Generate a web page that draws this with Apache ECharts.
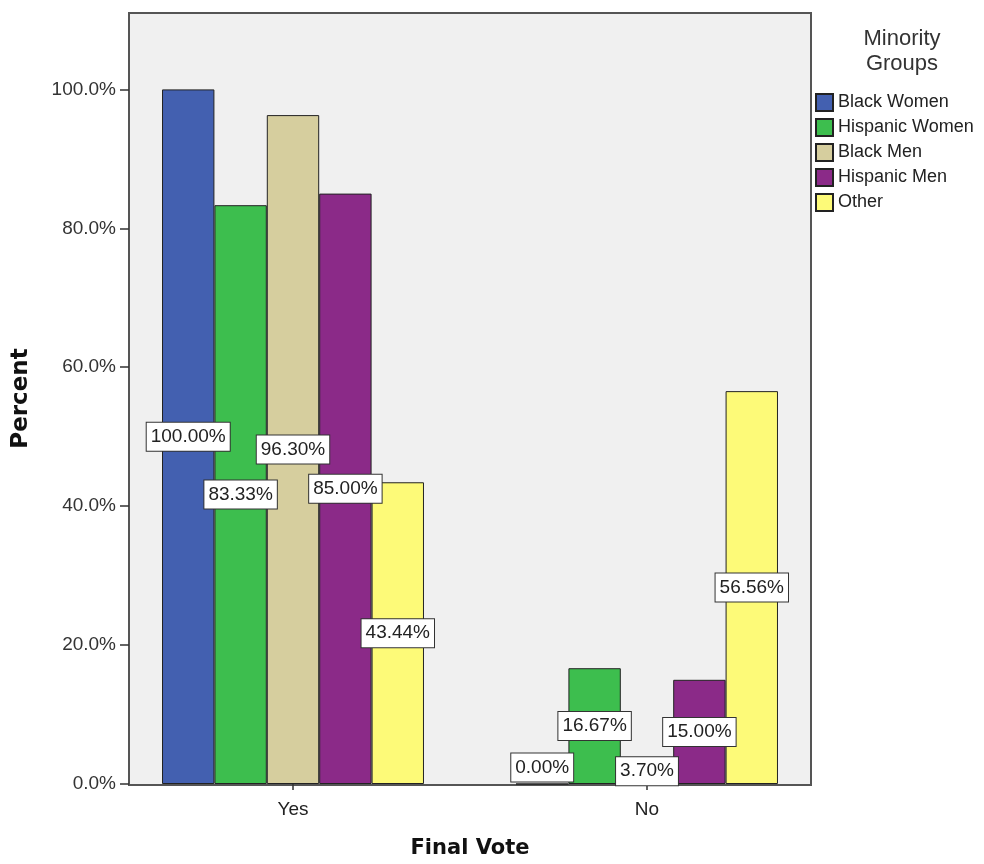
<!DOCTYPE html>
<html>
<head>
<meta charset="utf-8">
<script src="https://cdn.jsdelivr.net/npm/echarts@6/dist/echarts.min.js"></script>
<style>
html,body{margin:0;padding:0;background:#fff;}
#chart{width:984px;height:864px;}
</style>
</head>
<body>
<div id="chart"></div>
<script>
// ---- data ----
const categories = ['Yes', 'No'];
const groupNames = ['Black Women', 'Hispanic Women', 'Black Men', 'Hispanic Men', 'Other'];
const blackWomen    = [100.00, 0.00];
const hispanicWomen = [83.33, 16.67];
const blackMen      = [96.30, 3.70];
const hispanicMen   = [85.00, 15.00];
const other         = [43.44, 56.56];
const yTicks = [0, 20, 40, 60, 80, 100];

// ---- styles ----
const colors = ['#4360B0', '#3DBE4E', '#D6CE9E', '#8B2A88', '#FDFA78'];
const seriesValues = [blackWomen, hispanicWomen, blackMen, hispanicMen, other];

// layout: category band grid and the visible plot frame
const GRID = {left: 116, right: 160, top: 13, bottom: 79};
const INSET = 13;
const W = 984, H = 864;
const frame = {
  x: GRID.left + INSET,
  y: GRID.top,
  width: W - GRID.left - GRID.right - 2 * INSET,
  height: H - GRID.top - GRID.bottom
};

const labelFont = 'Liberation Sans, Arial, sans-serif';

const series = seriesValues.map((vals, i) => ({
  name: groupNames[i],
  type: 'bar',
  barGap: 0,
  barCategoryGap: '26%',
  itemStyle: {color: colors[i], borderColor: '#222', borderWidth: 1},
  label: {
    show: true,
    position: 'inside',
    formatter: p => p.value.toFixed(2) + '%',
    fontFamily: labelFont,
    fontSize: 19,
    color: '#222',
    backgroundColor: '#fff',
    borderColor: '#333',
    borderWidth: 1,
    padding: [5, 4, 4, 4]
  },
  data: vals.map(v => v === 0 ? {value: v, label: {position: 'top', distance: 2}} : v)
}));

const chart = echarts.init(document.getElementById('chart'));
chart.setOption({
  animation: false,
  backgroundColor: '#fff',
  title: {
    text: 'Minority\nGroups',
    left: 897,
    top: 21,
    textAlign: 'center',
    textStyle: {fontFamily: labelFont, fontSize: 22, fontWeight: 'normal', color: '#333', lineHeight: 25}
  },
  legend: {
    orient: 'vertical',
    left: 810,
    top: 88,
    itemWidth: 17,
    itemHeight: 17,
    itemGap: 6,
    icon: 'rect',
    textStyle: {fontFamily: labelFont, fontSize: 18, color: '#222'},
    data: groupNames
  },
  graphic: [{
    type: 'rect',
    z: -10,
    silent: true,
    shape: frame,
    style: {fill: '#F0F0F0', stroke: '#555', lineWidth: 2}
  }],
  grid: {left: GRID.left, right: GRID.right, top: GRID.top, bottom: GRID.bottom, containLabel: false},
  xAxis: {
    type: 'category',
    data: categories,
    name: 'Final Vote',
    nameLocation: 'middle',
    nameGap: 54,
    nameTextStyle: {fontFamily: 'DejaVu Sans, sans-serif', fontWeight: 'bold', fontSize: 21, color: '#111'},
    axisLine: {show: false},
    axisTick: {show: true, alignWithLabel: true, length: 6, lineStyle: {color: '#333', width: 1.5}},
    axisLabel: {fontFamily: labelFont, fontSize: 19, color: '#222', margin: 16},
    splitLine: {show: false}
  },
  yAxis: {
    type: 'value',
    min: 0,
    max: 111,
    interval: 20,
    offset: -INSET,
    name: 'Percent',
    nameLocation: 'middle',
    nameGap: 96,
    nameTextStyle: {fontFamily: 'DejaVu Sans, sans-serif', fontWeight: 'bold', fontSize: 23, color: '#111'},
    axisLine: {show: false},
    axisTick: {show: true, length: 9, lineStyle: {color: '#333', width: 1.5}, customValues: yTicks},
    axisLabel: {
      fontFamily: labelFont, fontSize: 19, color: '#333', margin: 13,
      customValues: yTicks,
      formatter: v => v.toFixed(1) + '%'
    },
    splitLine: {show: false}
  },
  series: series
});
</script>
</body>
</html>
